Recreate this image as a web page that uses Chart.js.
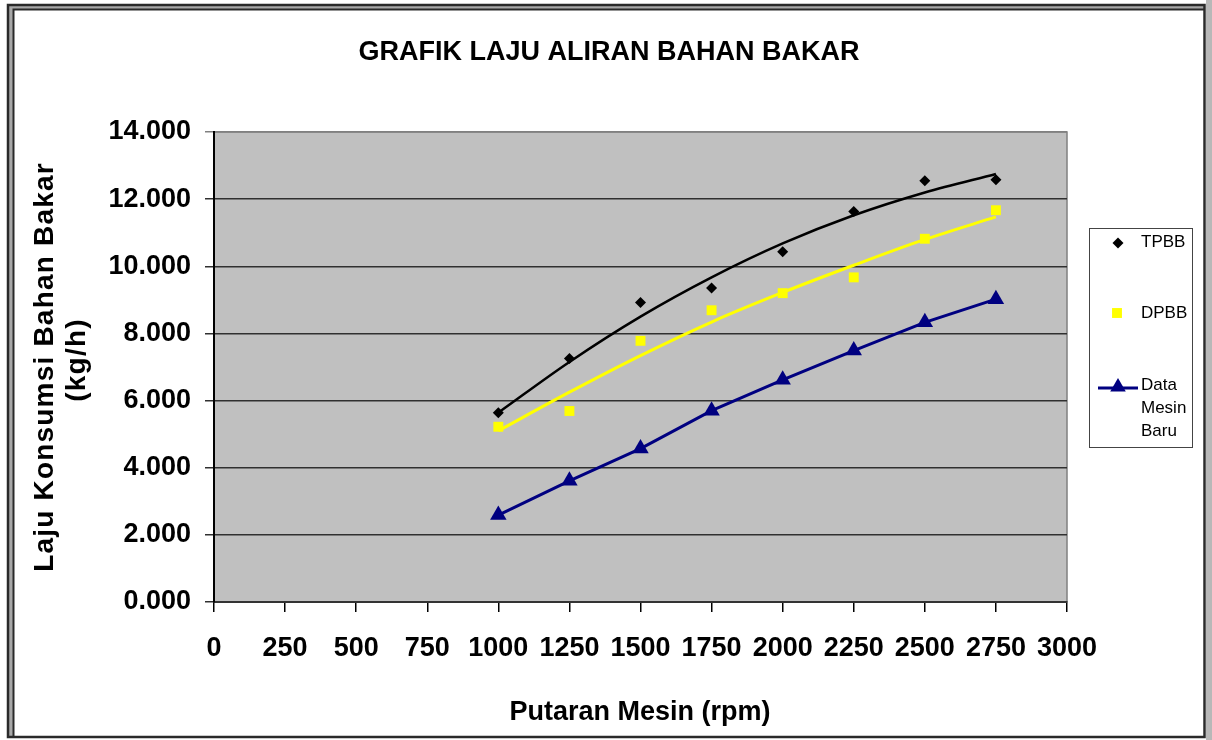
<!DOCTYPE html>
<html>
<head>
<meta charset="utf-8">
<title>Grafik Laju Aliran Bahan Bakar</title>
<script src="https://cdn.jsdelivr.net/npm/chart.js@4.4.1/dist/chart.umd.min.js"></script>
<style>
  html, body { margin: 0; padding: 0; background: #fff; }
  #wrap { width: 1212px; height: 740px; }
</style>
</head>
<body>
<div id="wrap"><canvas id="grafik" width="1212" height="740"></canvas></div>
<script>
// data
const putaran = [1000, 1250, 1500, 1750, 2000, 2250, 2500, 2750];
const tpbb = [5.64, 7.25, 8.92, 9.35, 10.43, 11.63, 12.55, 12.58];
const dpbb = [5.22, 5.69, 7.78, 8.69, 9.20, 9.67, 10.82, 11.67];
const mesinBaru = [2.59, 3.61, 4.57, 5.70, 6.62, 7.49, 8.33, 9.02];

// garis trend (polinomial)
const trendTpbb = [5.64, 7.15, 8.50, 9.67, 10.68, 11.52, 12.20, 12.75];
const trendDpbb = [5.10, 6.25, 7.34, 8.34, 9.22, 10.03, 10.80, 11.47];

// label sumbu
const xTickLabels = ['0', '250', '500', '750', '1000', '1250', '1500', '1750', '2000', '2250', '2500', '2750', '3000'];
const yTickLabels = ['0.000', '2.000', '4.000', '6.000', '8.000', '10.000', '12.000', '14.000'];

const FONT = "'Liberation Sans', Arial, sans-serif";

function titik(nilai) {
    return putaran.map((x, i) => ({ x: x, y: nilai[i] }));
}

// latar, bingkai luar dan area plot abu-abu
const bingkai = {
    id: 'bingkai',
    beforeDraw(chart) {
        const c = chart.ctx;
        const a = chart.chartArea;
        c.save();
        c.fillStyle = '#fff';
        c.fillRect(0, 0, chart.width, chart.height);
        // strip abu-abu kanan
        c.fillStyle = '#b8b8b8';
        c.fillRect(1206, 0, 6, 740);
        // bingkai ganda
        c.fillStyle = '#a8a8a8';
        c.fillRect(9, 6, 4, 731);
        c.fillRect(9, 6, 1195, 3);
        c.strokeStyle = '#2a2a2a';
        c.lineWidth = 2.5;
        c.strokeRect(8, 5, 1196.5, 732);
        c.lineWidth = 2;
        c.beginPath();
        c.moveTo(13.5, 737);
        c.lineTo(13.5, 9.5);
        c.lineTo(1204, 9.5);
        c.stroke();
        // area plot
        c.fillStyle = '#c0c0c0';
        c.fillRect(a.left, a.top, a.right - a.left, a.bottom - a.top);
        c.strokeStyle = '#808080';
        c.lineWidth = 1.5;
        c.strokeRect(a.left, a.top, a.right - a.left, a.bottom - a.top);
        c.restore();
    }
};

// judul, judul sumbu dan legenda
const teks = {
    id: 'teks',
    afterDraw(chart) {
        const c = chart.ctx;
        c.save();
        c.fillStyle = '#000';
        c.textAlign = 'center';
        c.textBaseline = 'alphabetic';

        c.font = 'bold 27px ' + FONT;
        c.fillText('GRAFIK LAJU ALIRAN BAHAN BAKAR', 609, 60);
        c.fillText('Putaran Mesin (rpm)', 640, 720);

        c.font = 'bold 28px ' + FONT;
        c.letterSpacing = '1.2px';
        c.save();
        c.translate(53, 367);
        c.rotate(-Math.PI / 2);
        c.fillText('Laju Konsumsi Bahan Bakar', 0, 0);
        c.restore();
        c.save();
        c.translate(85, 360);
        c.rotate(-Math.PI / 2);
        c.fillText('(kg/h)', 0, 0);
        c.restore();
        c.letterSpacing = '0px';

        // legenda
        c.strokeStyle = '#444';
        c.lineWidth = 1;
        c.strokeRect(1089.5, 228.5, 103, 219);

        c.fillStyle = '#000';
        c.strokeStyle = '#000';
        Chart.helpers.drawPoint(c, { pointStyle: 'rectRot', radius: 5.5, borderWidth: 0 }, 1118, 243);
        c.fillStyle = '#ffff00';
        Chart.helpers.drawPoint(c, { pointStyle: 'rect', radius: 7, borderWidth: 0 }, 1117, 313);

        c.strokeStyle = '#000080';
        c.lineWidth = 3;
        c.beginPath();
        c.moveTo(1098, 388);
        c.lineTo(1138, 388);
        c.stroke();
        c.fillStyle = '#000080';
        Chart.helpers.drawPoint(c, { pointStyle: 'triangle', radius: 9, borderWidth: 0 }, 1118, 387);

        c.fillStyle = '#000';
        c.font = '17px ' + FONT;
        c.textAlign = 'left';
        c.textBaseline = 'middle';
        c.fillText('TPBB', 1141, 242);
        c.fillText('DPBB', 1141, 313);
        c.fillText('Data', 1141, 385);
        c.fillText('Mesin', 1141, 408);
        c.fillText('Baru', 1141, 431);
        c.restore();
    }
};

const ctx = document.getElementById('grafik').getContext('2d');

new Chart(ctx, {
    type: 'line',
    data: {
        datasets: [
            {
                label: 'TPBB',
                data: titik(tpbb),
                showLine: false,
                pointStyle: 'rectRot',
                pointRadius: 5.5,
                pointBackgroundColor: '#000',
                pointBorderWidth: 0
            },
            {
                label: 'DPBB',
                data: titik(dpbb),
                showLine: false,
                pointStyle: 'rect',
                pointRadius: 7,
                pointBackgroundColor: '#ffff00',
                pointBorderWidth: 0
            },
            {
                label: 'Data Mesin Baru',
                data: titik(mesinBaru),
                borderColor: '#000080',
                borderWidth: 3,
                tension: 0,
                pointStyle: 'triangle',
                pointRadius: 9.5,
                pointBackgroundColor: '#000080',
                pointBorderWidth: 0
            },
            {
                label: 'Trend TPBB',
                data: titik(trendTpbb),
                borderColor: '#000',
                borderWidth: 2.5,
                cubicInterpolationMode: 'monotone',
                pointRadius: 0
            },
            {
                label: 'Trend DPBB',
                data: titik(trendDpbb),
                borderColor: '#ffff00',
                borderWidth: 3,
                cubicInterpolationMode: 'monotone',
                pointRadius: 0
            }
        ]
    },
    options: {
        responsive: false,
        animation: false,
        devicePixelRatio: 1,
        layout: { padding: { left: 0, top: 132, right: 145, bottom: 0 } },
        plugins: {
            legend: { display: false },
            title: { display: false },
            tooltip: { enabled: false }
        },
        scales: {
            x: {
                type: 'linear',
                min: 0,
                max: 3000,
                afterFit: s => { s.height = 138; },
                grid: { drawOnChartArea: false, tickLength: 10, color: '#000', lineWidth: 1.5 },
                border: { color: '#333', width: 2 },
                ticks: {
                    stepSize: 250,
                    autoSkip: false,
                    maxRotation: 0,
                    padding: 20,
                    color: '#000',
                    font: { family: FONT, size: 27, weight: 'bold' },
                    callback: (v, i) => xTickLabels[i]
                }
            },
            y: {
                min: 0,
                max: 14,
                afterFit: s => { s.width = 214; },
                grid: {
                    tickLength: 9,
                    lineWidth: 1.5,
                    color: c => (c.tick && c.tick.value === 14) ? '#808080' : '#303030'
                },
                border: { color: '#000', width: 2 },
                ticks: {
                    stepSize: 2,
                    padding: 14,
                    color: '#000',
                    font: { family: FONT, size: 27, weight: 'bold' },
                    callback: (v, i) => yTickLabels[i]
                }
            }
        }
    },
    plugins: [bingkai, teks]
});
</script>
</body>
</html>
